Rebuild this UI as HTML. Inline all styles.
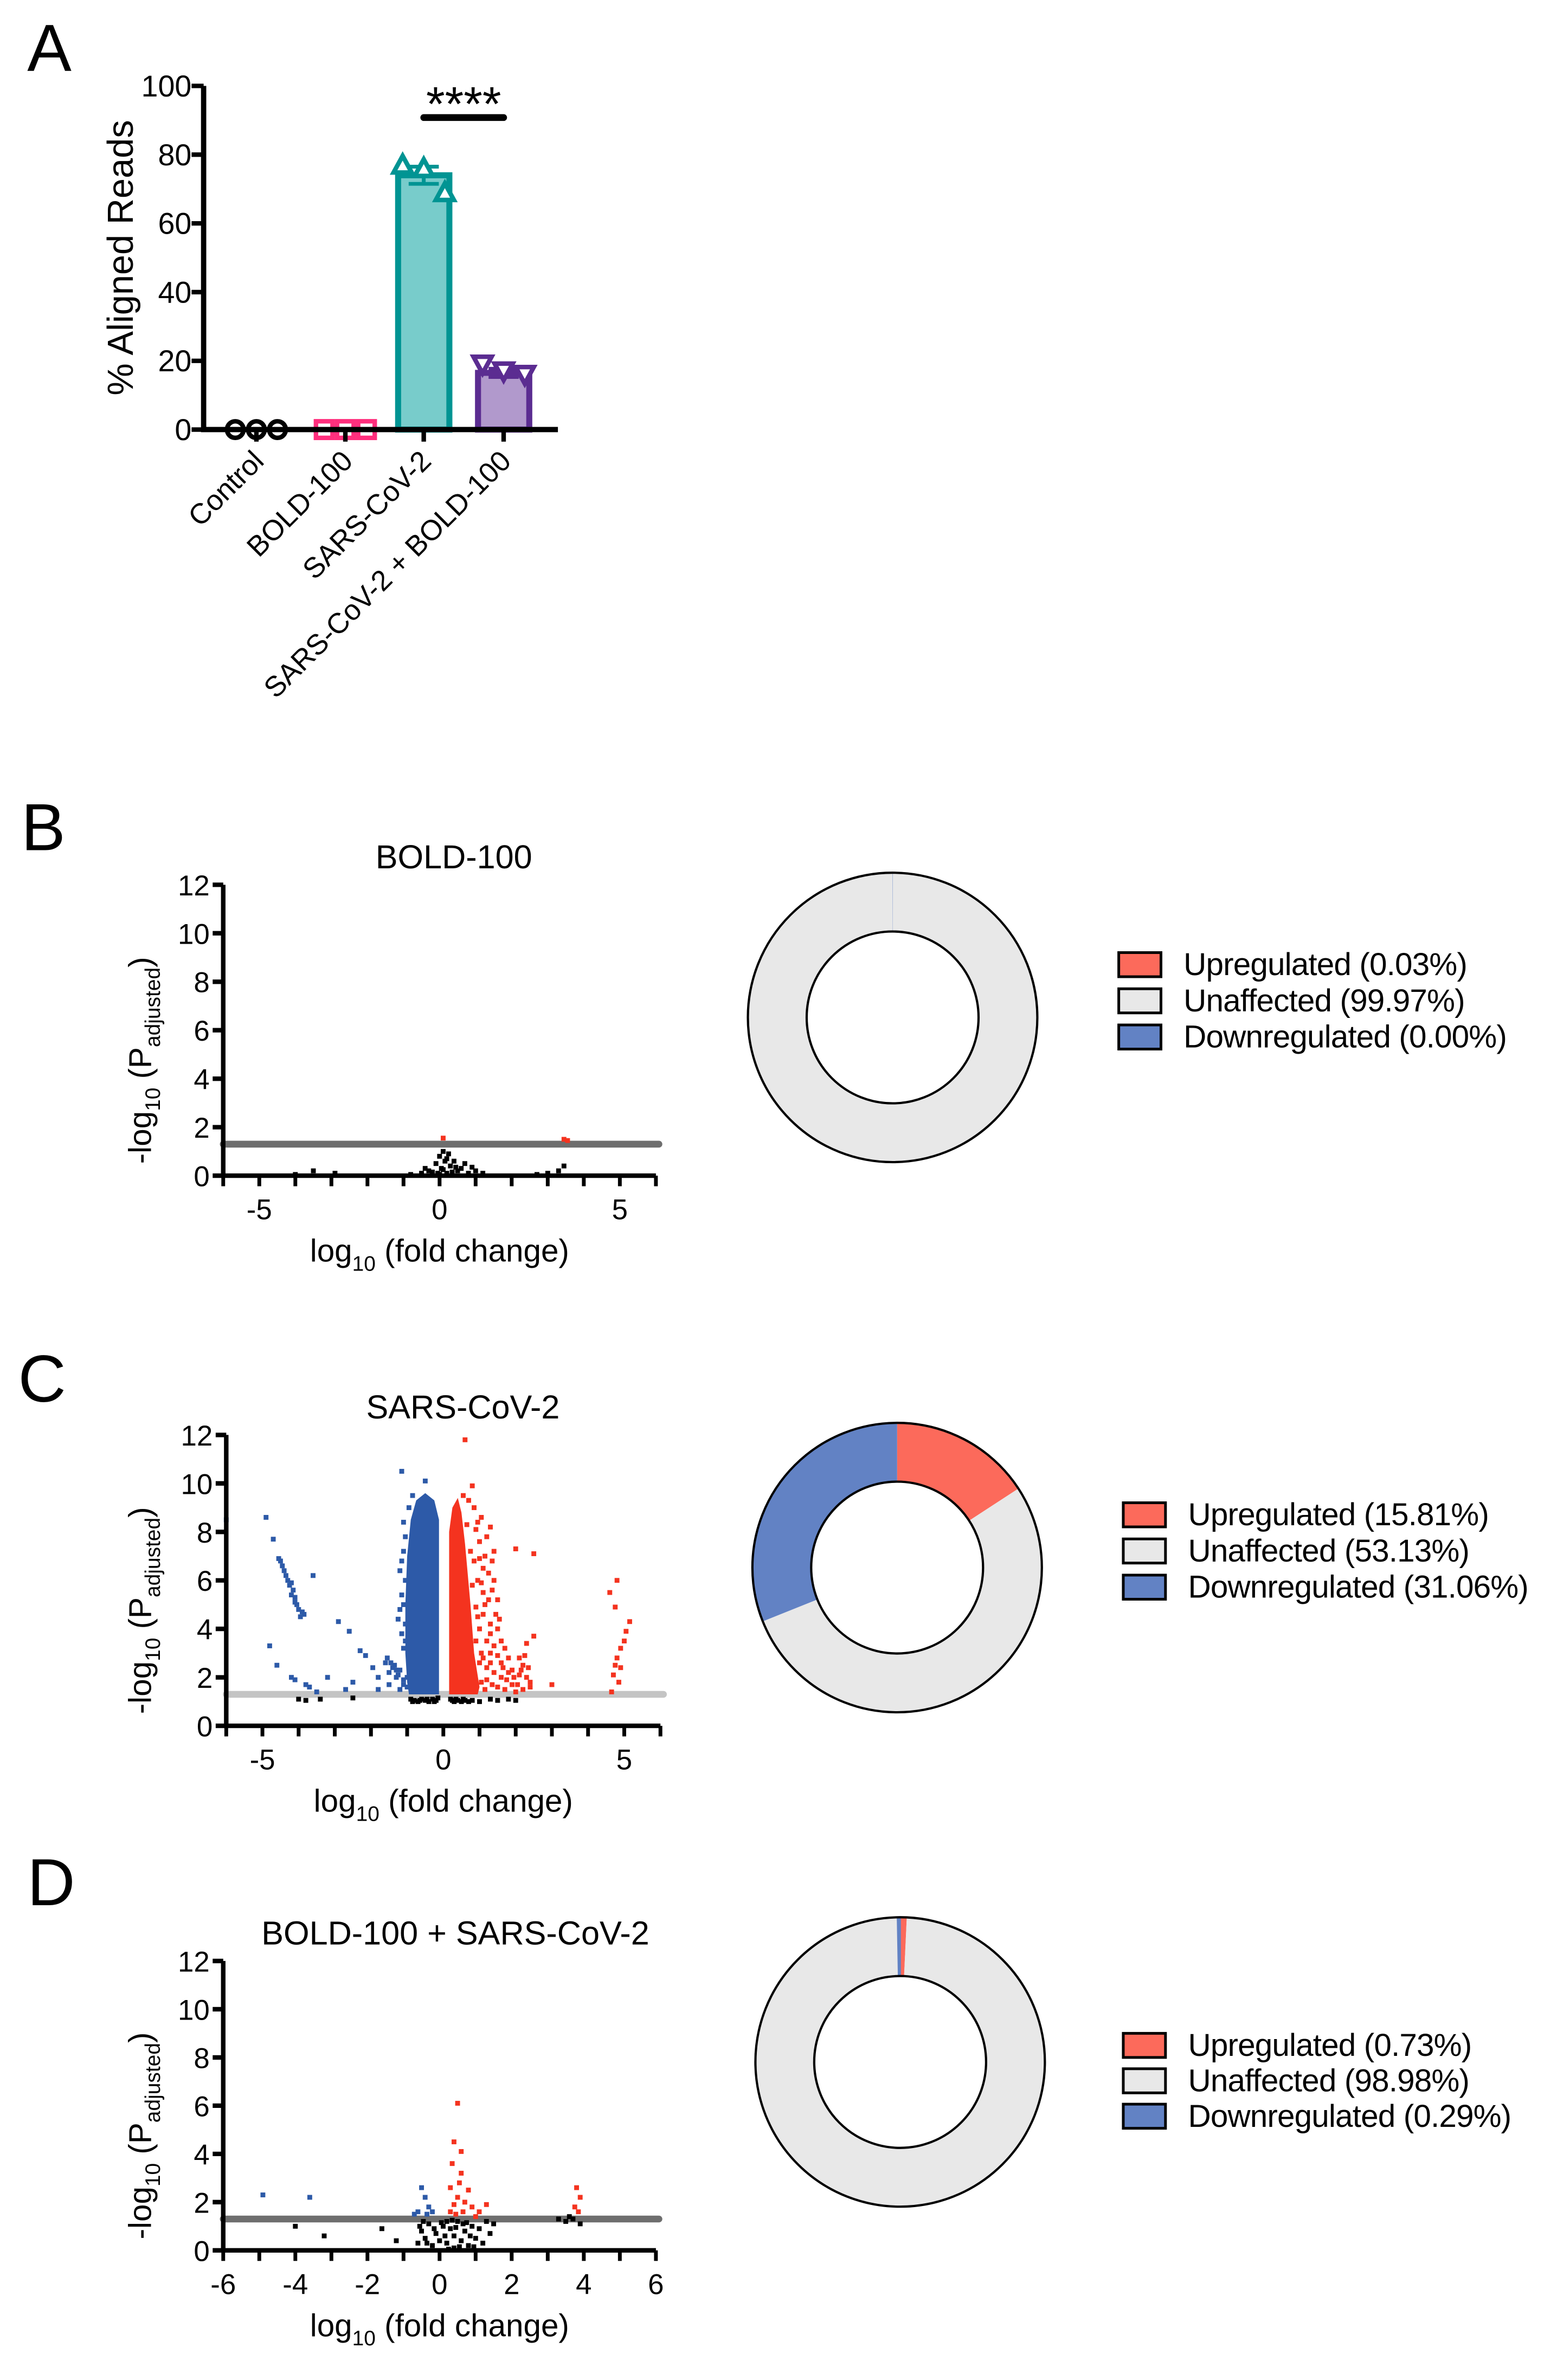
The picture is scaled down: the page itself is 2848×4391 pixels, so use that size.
<!DOCTYPE html>
<html><head><meta charset="utf-8">
<style>
html,body{margin:0;padding:0;background:#fff;}
svg{display:block;font-family:"Liberation Sans",Arial,sans-serif;}
</style></head>
<body>
<svg id="fig" xmlns="http://www.w3.org/2000/svg" width="2848" height="4391" viewBox="0 0 1024 1579">
<rect width="1024" height="1579" fill="#fff"/>
<g id="panelA"></g>
<g id="panelB"></g>
<g id="panelC"></g>
<g id="panelD"></g>
<g id="donuts"></g>
</svg>
<script>
// ---------- Panel A data ----------
const aCategories = ["Control","BOLD-100","SARS-CoV-2","SARS-CoV-2 + BOLD-100"];
const aMeans = [0, 0, 74, 16.5];
const aSem = [0, 0, 2.5, 1.2];
const aPoints = [[0,0,0],[0,0,0],[77,76,69],[19,17,16]];
const aTicks = [0,20,40,60,80,100];

// ---------- Volcano data ----------
const bBlack = [[-0.3,0.2],[-0.1,0.5],[0,0.8],[0.1,1.0],[0.2,0.7],[0.3,0.4],[0.5,0.2],[0.6,0.3],[0.8,0.1],[1.0,0.2],[1.2,0.1],[-0.5,0.1],[-0.8,0.05],[0.05,0.3],[0.15,0.6],[-0.05,0.1],[0.4,0.6],[0.7,0.5],[-3.5,0.2],[-2.9,0.1],[-4.0,0.05],[3.0,0.1],[3.3,0.2],[3.45,0.4],[2.7,0.05],[0.25,0.9],[-0.2,0.15],[0.35,0.15],[0.9,0.35],[-0.4,0.3],[0.0,0.05],[0.2,0.1],[0.45,0.35],[0.1,0.25]];
const bRed = [[0.1,1.55],[3.45,1.5],[3.55,1.45]];
const bBlue = [];

const cRed = [[0.8,9.9],[0.6,11.8],[0.55,9.5],[0.7,9.3],[1.05,8.6],[1.3,8.2],[1.4,7.2],[0.9,8.1],[1.0,7.6],[0.65,8.3],[0.85,6.8],[1.1,6.5],[1.25,6.3],[1.5,5.2],[1.4,6.0],[1.1,5.5],[1.3,4.2],[1.5,4.0],[1.6,3.5],[1.2,3.5],[1.7,3.2],[1.8,2.8],[1.4,2.2],[1.6,2.0],[1.9,2.3],[2.1,2.8],[2.3,3.4],[2.5,3.7],[2.2,2.5],[1.9,1.7],[1.7,1.5],[1.5,1.6],[2.4,1.8],[2.0,1.4],[1.2,1.9],[1.0,2.6],[0.95,4.5],[1.15,5.0],[1.35,5.6],[0.75,7.2],[0.8,5.8],[1.05,3.0],[2.0,7.3],[2.5,7.1],[3.0,1.7],[4.8,6.0],[4.6,5.5],[4.75,4.9],[5.05,3.9],[5.15,4.3],[4.9,3.2],[4.8,2.8],[4.7,2.1],[4.85,1.8],[4.65,1.4],[4.9,2.4],[5.0,3.5],[4.75,2.5],[2.3,2.0],[2.4,1.6],[1.0,4.0],[1.2,2.4],[0.9,3.5],[1.3,3.0],[1.1,4.6],[0.95,6.0],[1.6,2.6],[1.8,2.2],[2.1,2.1],[2.2,1.5],[0.85,9.0],[0.95,8.4],[1.15,7.0],[1.2,7.8],[1.35,6.8],[1.45,4.6],[1.55,4.4],[1.05,5.9],[1.25,5.2],[0.9,4.9],[1.0,6.9],[1.3,3.8],[1.4,3.3],[1.1,2.8],[1.3,2.6],[1.5,2.9],[1.65,2.4],[1.75,1.9],[1.95,2.0],[2.05,1.7],[2.15,2.3],[2.25,2.9],[2.35,2.4],[1.05,1.8],[1.15,1.5],[1.35,1.7]];
const cRedCore = [[0.16,1.3],[0.16,8],[0.25,9],[0.4,9.4],[0.5,8.8],[0.6,7.5],[0.75,5],[0.85,3],[1.0,1.6],[0.95,1.3]];
const cBlue = [[-6,8.5],[-4.9,8.6],[-4.7,7.7],[-4.55,6.9],[-4.45,6.6],[-4.35,6.2],[-4.25,5.8],[-4.2,5.4],[-4.1,5.1],[-4.0,4.8],[-3.95,4.5],[-3.85,4.6],[-4.3,6.0],[-4.15,5.6],[-4.4,6.4],[-4.05,5.0],[-4.5,6.8],[-4.2,5.9],[-4.1,5.3],[-3.9,4.7],[-3.6,6.2],[-4.8,3.3],[-4.6,2.5],[-4.2,2.0],[-4.1,1.9],[-3.7,1.6],[-3.5,1.4],[-3.8,1.7],[-3.2,2.0],[-2.9,4.3],[-2.6,3.9],[-2.3,3.1],[-2.15,2.9],[-1.95,2.4],[-1.8,2.0],[-1.6,2.6],[-1.5,2.2],[-1.3,2.0],[-1.1,1.9],[-2.7,1.5],[-2.5,1.8],[-1.8,1.5],[-1.5,1.7],[-1.2,1.5],[-1.15,10.5],[-0.5,10.1],[-1.1,8.4],[-1.2,6.4],[-1.25,4.4],[-1.1,3.2],[-1.55,2.8],[-1.35,2.5],[-1.2,2.3],[-1.0,2.0],[-1.05,7.8],[-1.1,7.2],[-1.15,6.8],[-1.05,6.0],[-1.15,5.4],[-1.1,5.0],[-1.2,4.8],[-1.05,4.2],[-1.15,3.8],[-1.05,3.5],[-0.95,9.0],[-0.85,9.5],[-1.45,2.6],[-1.4,2.4],[-1.3,2.3],[-1.25,2.1],[-1.1,1.7],[-1.0,1.6]];
const cBlueCore = [[-0.12,1.3],[-0.12,8.5],[-0.25,9.3],[-0.5,9.6],[-0.75,9.3],[-0.9,8.5],[-1.0,7],[-1.05,5],[-1.05,3],[-1.0,1.8],[-0.95,1.3]];
const cBlack = [[-4.0,1.1],[-3.8,1.05],[-3.4,1.1],[-2.5,1.15],[-0.9,1.1],[-0.8,1.05],[-0.7,1.0],[-0.6,1.1],[-0.5,1.05],[-0.4,1.0],[-0.3,1.1],[-0.2,1.05],[-0.15,1.15],[0.2,1.1],[0.3,1.0],[0.4,1.05],[0.55,1.1],[0.7,1.0],[0.8,1.05],[1.0,1.0],[1.3,1.1],[1.5,1.05],[1.8,1.1],[2.0,1.05],[-0.85,1.0],[-0.65,1.05],[-0.45,1.1],[-0.25,1.0],[0.25,1.05],[0.35,1.1],[0.5,1.0],[0.6,1.05]];

const dBlack = [[-0.6,0.3],[-0.5,0.8],[-0.4,0.5],[-0.3,1.1],[-0.2,0.2],[-0.1,0.7],[0,0.4],[0.1,1.0],[0.2,0.3],[0.3,0.9],[0.4,0.6],[0.5,1.2],[0.6,0.4],[0.7,0.8],[0.8,0.2],[0.9,1.0],[1.0,0.5],[1.1,0.9],[1.2,0.3],[0.35,1.25],[0.55,0.15],[-0.45,1.2],[0.15,0.6],[0.75,1.15],[-4.0,1.0],[-3.2,0.6],[-1.2,0.4],[-1.6,0.9],[3.3,1.3],[3.5,1.2],[3.7,1.3],[3.9,1.1],[3.6,1.4],[1.4,0.7],[1.5,1.1],[-0.55,1.0],[-0.35,0.3],[0.05,1.15],[0.25,0.05],[0.45,0.95],[0.65,1.1],[0.85,0.6],[-0.15,0.9],[0.95,0.15],[1.3,1.2],[0.2,1.2],[0.4,0.1]];
const dRed = [[0.5,6.1],[0.4,4.5],[0.6,3.2],[0.3,2.6],[0.5,2.2],[0.7,2.0],[0.9,1.8],[1.1,1.6],[0.4,1.9],[0.8,2.5],[1.3,1.9],[0.35,3.6],[0.6,4.1],[3.8,2.6],[3.9,2.2],[3.75,1.8],[3.85,1.6],[0.45,1.5],[1.0,1.4],[0.3,1.6],[0.55,2.8],[0.65,1.6]];
const dBlue = [[-0.5,2.6],[-0.4,2.2],[-0.3,1.8],[-0.6,1.6],[-0.2,1.6],[-4.9,2.3],[-3.6,2.2],[-0.7,1.5],[-0.35,1.5]];

// ---------- Donut data ----------
const donutLabels = ["Upregulated","Unaffected","Downregulated"];
const bPct = [0.03, 99.97, 0.00];
const cPct = [15.81, 53.13, 31.06];
const dPct = [0.73, 98.98, 0.29];

const NS = "http://www.w3.org/2000/svg";
function mk(parent, tag, attrs, text){
  const e = document.createElementNS(NS, tag);
  for (const k in attrs) e.setAttribute(k, attrs[k]);
  if (text !== undefined) e.textContent = text;
  parent.appendChild(e);
  return e;
}
const RED = "#f4331f", BLUE = "#2d5aa8", DRED = "#fc6a5b", DGRAY = "#e8e8e8", DBLUE = "#6282c4";

// ---------- Panel A ----------
(function(){
  const g = document.getElementById('panelA');
  const X0 = 135, X1 = 370, Y0 = 285, Y1 = 57;
  const ys = v => Y0 - (v/100)*(Y0-Y1);
  const cx = [170, 229, 281, 334];
  const lt = mk(g,'text',{x:18,y:47,'font-size':44});
  lt.textContent = 'A';
  
  
  aTicks.forEach(t=>{
    const tl = mk(g,'line',{x1:X0-8,x2:X0,y1:ys(t),y2:ys(t),stroke:'#000','stroke-width':3});
    
    
    const tx = mk(g,'text',{x:X0-8,y:ys(t)+7,'font-size':20,'text-anchor':'end'}, String(t));
    
    
  });
  const yt = mk(g,'text',{x:88,y:171,'font-size':24,'text-anchor':'middle',transform:'rotate(-90 88 171)'},'% Aligned Reads');
  
  
  const fills = ['#fff','#fff','#78cccb','#b199cc'], strokes=['#000','#ff2f7d','#009493','#5b2c91'];
  aMeans.forEach((m,i)=>{
    if (m>0){
      const w = 34;
      const r = mk(g,'rect',{x:cx[i]-w/2,y:ys(m),width:w,height:Y0-ys(m),fill:fills[i],stroke:strokes[i],'stroke-width':4});
      
      
      const eb = mk(g,'path',{d:`M${cx[i]} ${ys(m-aSem[i])}V${ys(m+aSem[i])}M${cx[i]-10} ${ys(m+aSem[i])}H${cx[i]+10}M${cx[i]-10} ${ys(m-aSem[i])}H${cx[i]+10}`,stroke:strokes[i],'stroke-width':2.5,fill:'none'});
      
      
    }
    aPoints[i].forEach((v,j)=>{
      const px = cx[i] + (j-1)*14;
      let p;
      if (i===0) p = mk(g,'circle',{cx:px,cy:ys(v),r:5.5,fill:'#fff',stroke:'#000','stroke-width':3});
      else if (i===1) p = mk(g,'rect',{x:px-5.5,y:ys(v)-5.5,width:11,height:11,fill:'#fff',stroke:strokes[1],'stroke-width':3});
      else if (i===2) p = mk(g,'path',{d:`M${px} ${ys(v)-6}L${px+6} ${ys(v)+5}L${px-6} ${ys(v)+5}Z`,fill:'#fff',stroke:strokes[2],'stroke-width':3});
      else p = mk(g,'path',{d:`M${px-6} ${ys(v)-5}L${px+6} ${ys(v)-5}L${px} ${ys(v)+6}Z`,fill:'#fff',stroke:strokes[3],'stroke-width':3});
      
      
    });
    const tk = mk(g,'line',{x1:cx[i],x2:cx[i],y1:Y0,y2:Y0+8,stroke:'#000','stroke-width':3});
    
    
    const lx = cx[i]+6, ly = Y0+22;
    const cl = mk(g,'text',{x:lx,y:ly,'font-size':19,'text-anchor':'end',transform:`rotate(-45 ${lx} ${ly})`},aCategories[i]);
    
    
  });
  const ax = mk(g,'path',{d:`M${X0} ${Y1}V${Y0}H${X1}`,stroke:'#000','stroke-width':3.5,fill:'none'});
  
  
  const sl = mk(g,'line',{x1:cx[2],x2:cx[3],y1:78,y2:78,stroke:'#000','stroke-width':4.5,'stroke-linecap':'round'});
  
  
  const st = mk(g,'text',{x:(cx[2]+cx[3])/2,y:80,'font-size':32,'text-anchor':'middle'},'****');
  
  
})();

// ---------- Volcano plots ----------
function volcano(id, cfg){
  const g = document.getElementById(id);
  const xs = v => cfg.x0 + (v+6)/12*(cfg.x1-cfg.x0);
  const ys = v => cfg.y0 - v/12*(cfg.y0-cfg.y1);
  const lt = mk(g,'text',{x:cfg.lx,y:cfg.ly,'font-size':44},cfg.letter);
  
  
  const tt = mk(g,'text',{x:cfg.tx,y:cfg.ty,'font-size':22,'text-anchor':'middle'},cfg.title);
  
  
  const th = mk(g,'line',{x1:cfg.x0,x2:cfg.x1+2,y1:ys(1.3),y2:ys(1.3),stroke:cfg.thColor,'stroke-width':4.5,'stroke-linecap':'round'});
  
  
  (cfg.cores||[]).forEach(c=>{
    const pc = mk(g,'path',{d:'M'+c.pts.map(p=>xs(p[0])+' '+ys(p[1])).join('L')+'Z',fill:c.color});
    
    
  });
  const draw = (arr,col,name)=>arr.forEach(p=>{
    const c = mk(g,'rect',{x:xs(p[0])-1.6,y:ys(p[1])-1.6,width:3.2,height:3.2,fill:col});
    
    
  });
  draw(cfg.black,'#000','ns-gene-point');
  draw(cfg.blue,BLUE,'downregulated-point');
  draw(cfg.red,RED,'upregulated-point');
  const ax = mk(g,'path',{d:`M${cfg.x0} ${cfg.y1}V${cfg.y0}H${cfg.x1}`,stroke:'#000','stroke-width':3,fill:'none'});
  
  
  for (let t=0;t<=12;t+=2){
    const l = mk(g,'line',{x1:cfg.x0-7,x2:cfg.x0,y1:ys(t),y2:ys(t),stroke:'#000','stroke-width':3});
    
    
    const tx = mk(g,'text',{x:cfg.x0-9,y:ys(t)+7,'font-size':19,'text-anchor':'end'},String(t));
    
    
  }
  for (let t=-6;t<=6;t++){
    const l = mk(g,'line',{x1:xs(t),x2:xs(t),y1:cfg.y0,y2:cfg.y0+7,stroke:'#000','stroke-width':2.5});
    
    
  }
  cfg.xLabels.forEach(t=>{
    const tx = mk(g,'text',{x:xs(t),y:cfg.y0+29,'font-size':19,'text-anchor':'middle'},String(t));
    
    
  });
  const xt = mk(g,'text',{x:(cfg.x0+cfg.x1)/2,y:cfg.y0+57,'font-size':21,'text-anchor':'middle'});
  
  
  xt.innerHTML = 'log<tspan font-size="14" dy="6">10</tspan><tspan dy="-6"> (fold change)</tspan>';
  const yc = (cfg.y0+cfg.y1)/2 + 20, yx = 100;
  const yt = mk(g,'text',{x:yx,y:yc,'font-size':21,'text-anchor':'middle',transform:`rotate(-90 ${yx} ${yc})`});
  
  
  yt.innerHTML = '-log<tspan font-size="14" dy="6">10</tspan><tspan dy="-6"> (P</tspan><tspan font-size="14" dy="6">adjusted</tspan><tspan dy="-6">)</tspan>';
}
volcano('panelB',{letter:'B',lx:14,ly:564,title:'BOLD-100',tx:301,ty:576,x0:148,x1:435,y0:780,y1:587,thColor:'#6e6e6e',black:bBlack,red:bRed,blue:bBlue,xLabels:[-5,0,5]});
volcano('panelC',{letter:'C',lx:12,ly:930,title:'SARS-CoV-2',tx:307,ty:941,x0:150,x1:438,y0:1145,y1:952,thColor:'#c4c4c4',black:cBlack,red:cRed,blue:cBlue,xLabels:[-5,0,5],
  cores:[{pts:cBlueCore,color:BLUE,name:'downregulated-dense-cluster'},{pts:cRedCore,color:RED,name:'upregulated-dense-cluster'}]});
volcano('panelD',{letter:'D',lx:18,ly:1264,title:'BOLD-100 + SARS-CoV-2',tx:302,ty:1290,x0:148,x1:435,y0:1493,y1:1301,thColor:'#6e6e6e',black:dBlack,red:dRed,blue:dBlue,xLabels:[-6,-4,-2,0,2,4,6]});

// ---------- Donuts ----------
function donut(cx, cy, pcts, lgx, lgy, lgStep, name){
  const g = document.getElementById('donuts');
  const R = 96, r = 57;
  const cols = [DRED, DGRAY, DBLUE];
  let a0 = 0;
  const pt = (rad,a)=>[cx+rad*Math.sin(a), cy-rad*Math.cos(a)];
  pcts.forEach((p,i)=>{
    const a1 = a0 + p/100*2*Math.PI;
    if (p>0){
      let seg;
      if (p>=99.99){
        seg = mk(g,'circle',{cx:cx,cy:cy,r:(R+r)/2,fill:'none',stroke:cols[i],'stroke-width':R-r});
      } else {
        const large = (a1-a0)>Math.PI?1:0;
        const [x1,y1]=pt(R,a0),[x2,y2]=pt(R,a1),[x3,y3]=pt(r,a1),[x4,y4]=pt(r,a0);
        seg = mk(g,'path',{d:`M${x1} ${y1}A${R} ${R} 0 ${large} 1 ${x2} ${y2}L${x3} ${y3}A${r} ${r} 0 ${large} 0 ${x4} ${y4}Z`,fill:cols[i],stroke:(p<0.5?(i===0?DBLUE:cols[i]):'none'),'stroke-width':(p<0.5?1:0)});
      }
      
      
    }
    a0 = a1;
  });
  const o1 = mk(g,'circle',{cx:cx,cy:cy,r:R,fill:'none',stroke:'#000','stroke-width':1.5});
  
  
  const o2 = mk(g,'circle',{cx:cx,cy:cy,r:r,fill:'#fff',stroke:'#000','stroke-width':1.5});
  
  
  pcts.forEach((p,i)=>{
    const y = lgy + i*lgStep;
    const sw = mk(g,'rect',{x:lgx,y:y-8,width:28,height:16,fill:cols[i],stroke:'#000','stroke-width':1.8});
    
    
    const t = mk(g,'text',{x:lgx+43,y:y+7,'font-size':21,'letter-spacing':'-0.3'},`${donutLabels[i]} (${p.toFixed(2)}%)`);
    
    
  });
}
donut(592, 675, bPct, 742, 640, 24, 'donut-b');
donut(595, 1040, cPct, 745, 1005, 24, 'donut-c');
donut(597, 1368, dPct, 745, 1357, 23.5, 'donut-d');
</script>
</body></html>
